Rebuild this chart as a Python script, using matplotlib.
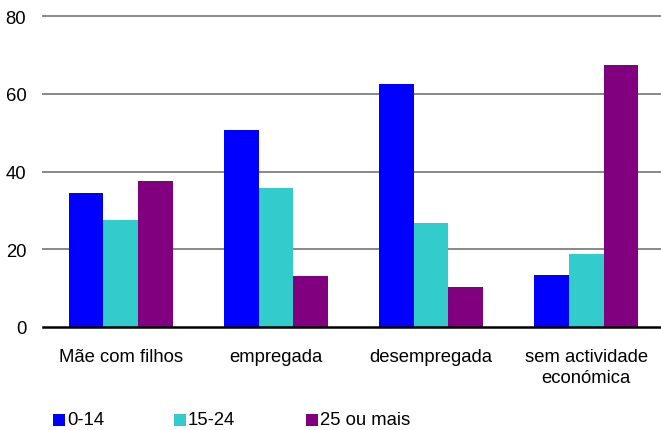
import matplotlib
matplotlib.use("Agg")
import matplotlib.pyplot as plt
from matplotlib.patches import Rectangle
import numpy as np

categories = ["Mãe com filhos", "empregada", "desempregada", "sem actividade\neconómica"]
series_names = ["0-14", "15-24", "25 ou mais"]
values_0_14 = [34.5, 50.7, 62.5, 13.4]
values_15_24 = [27.5, 35.8, 26.8, 18.8]
values_25_mais = [37.6, 13.1, 10.3, 67.4]
colors = ["#0000FF", "#33CCCC", "#800080"]
yticks = [0, 20, 40, 60, 80]

plt.rcParams['font.family'] = ['Liberation Sans', 'DejaVu Sans']
W, H = 661, 431
fig = plt.figure(figsize=(W / 100, H / 100), dpi=100)
ax = fig.add_axes([43 / W, 1 - 328 / H, (664 - 43) / W, (328 - 17) / H])

x = np.arange(len(categories))
bw = 0.223
for k, (vals, c) in enumerate(zip([values_0_14, values_15_24, values_25_mais], colors)):
    ax.bar(x + (k - 1) * bw, vals, width=bw, color=c, zorder=3, linewidth=0)

ax.set_xlim(-0.5, 3.5)
ax.set_ylim(0, 80)
ax.set_yticks(yticks)
ax.set_yticklabels([str(v) for v in yticks], fontsize=13.3)
ax.set_xticks(x)
ax.set_xticklabels(categories, fontsize=13.3, linespacing=1.3)
ax.tick_params(axis='both', length=0)
ax.tick_params(axis='y', pad=12)
ax.tick_params(axis='x', pad=15)
for v in yticks[1:]:
    ax.axhline(v, color="#888888", linewidth=1.4, zorder=1, clip_on=False)
for s in ["top", "right", "left"]:
    ax.spines[s].set_visible(False)
ax.spines["bottom"].set_color("black")
ax.spines["bottom"].set_linewidth(1.8)
ax.spines["bottom"].set_zorder(4)

# legend
leg_x = [53, 174, 306]
for name, c, lx in zip(series_names, colors, leg_x):
    fig.add_artist(Rectangle((lx / W, 1 - 427 / H), 12 / W, 12 / H,
                             transform=fig.transFigure, color=c, linewidth=0))
    fig.text((lx + 14) / W, 1 - 421 / H, name, fontsize=13.3, va="center", ha="left")

fig.savefig("out.png", dpi=100)
